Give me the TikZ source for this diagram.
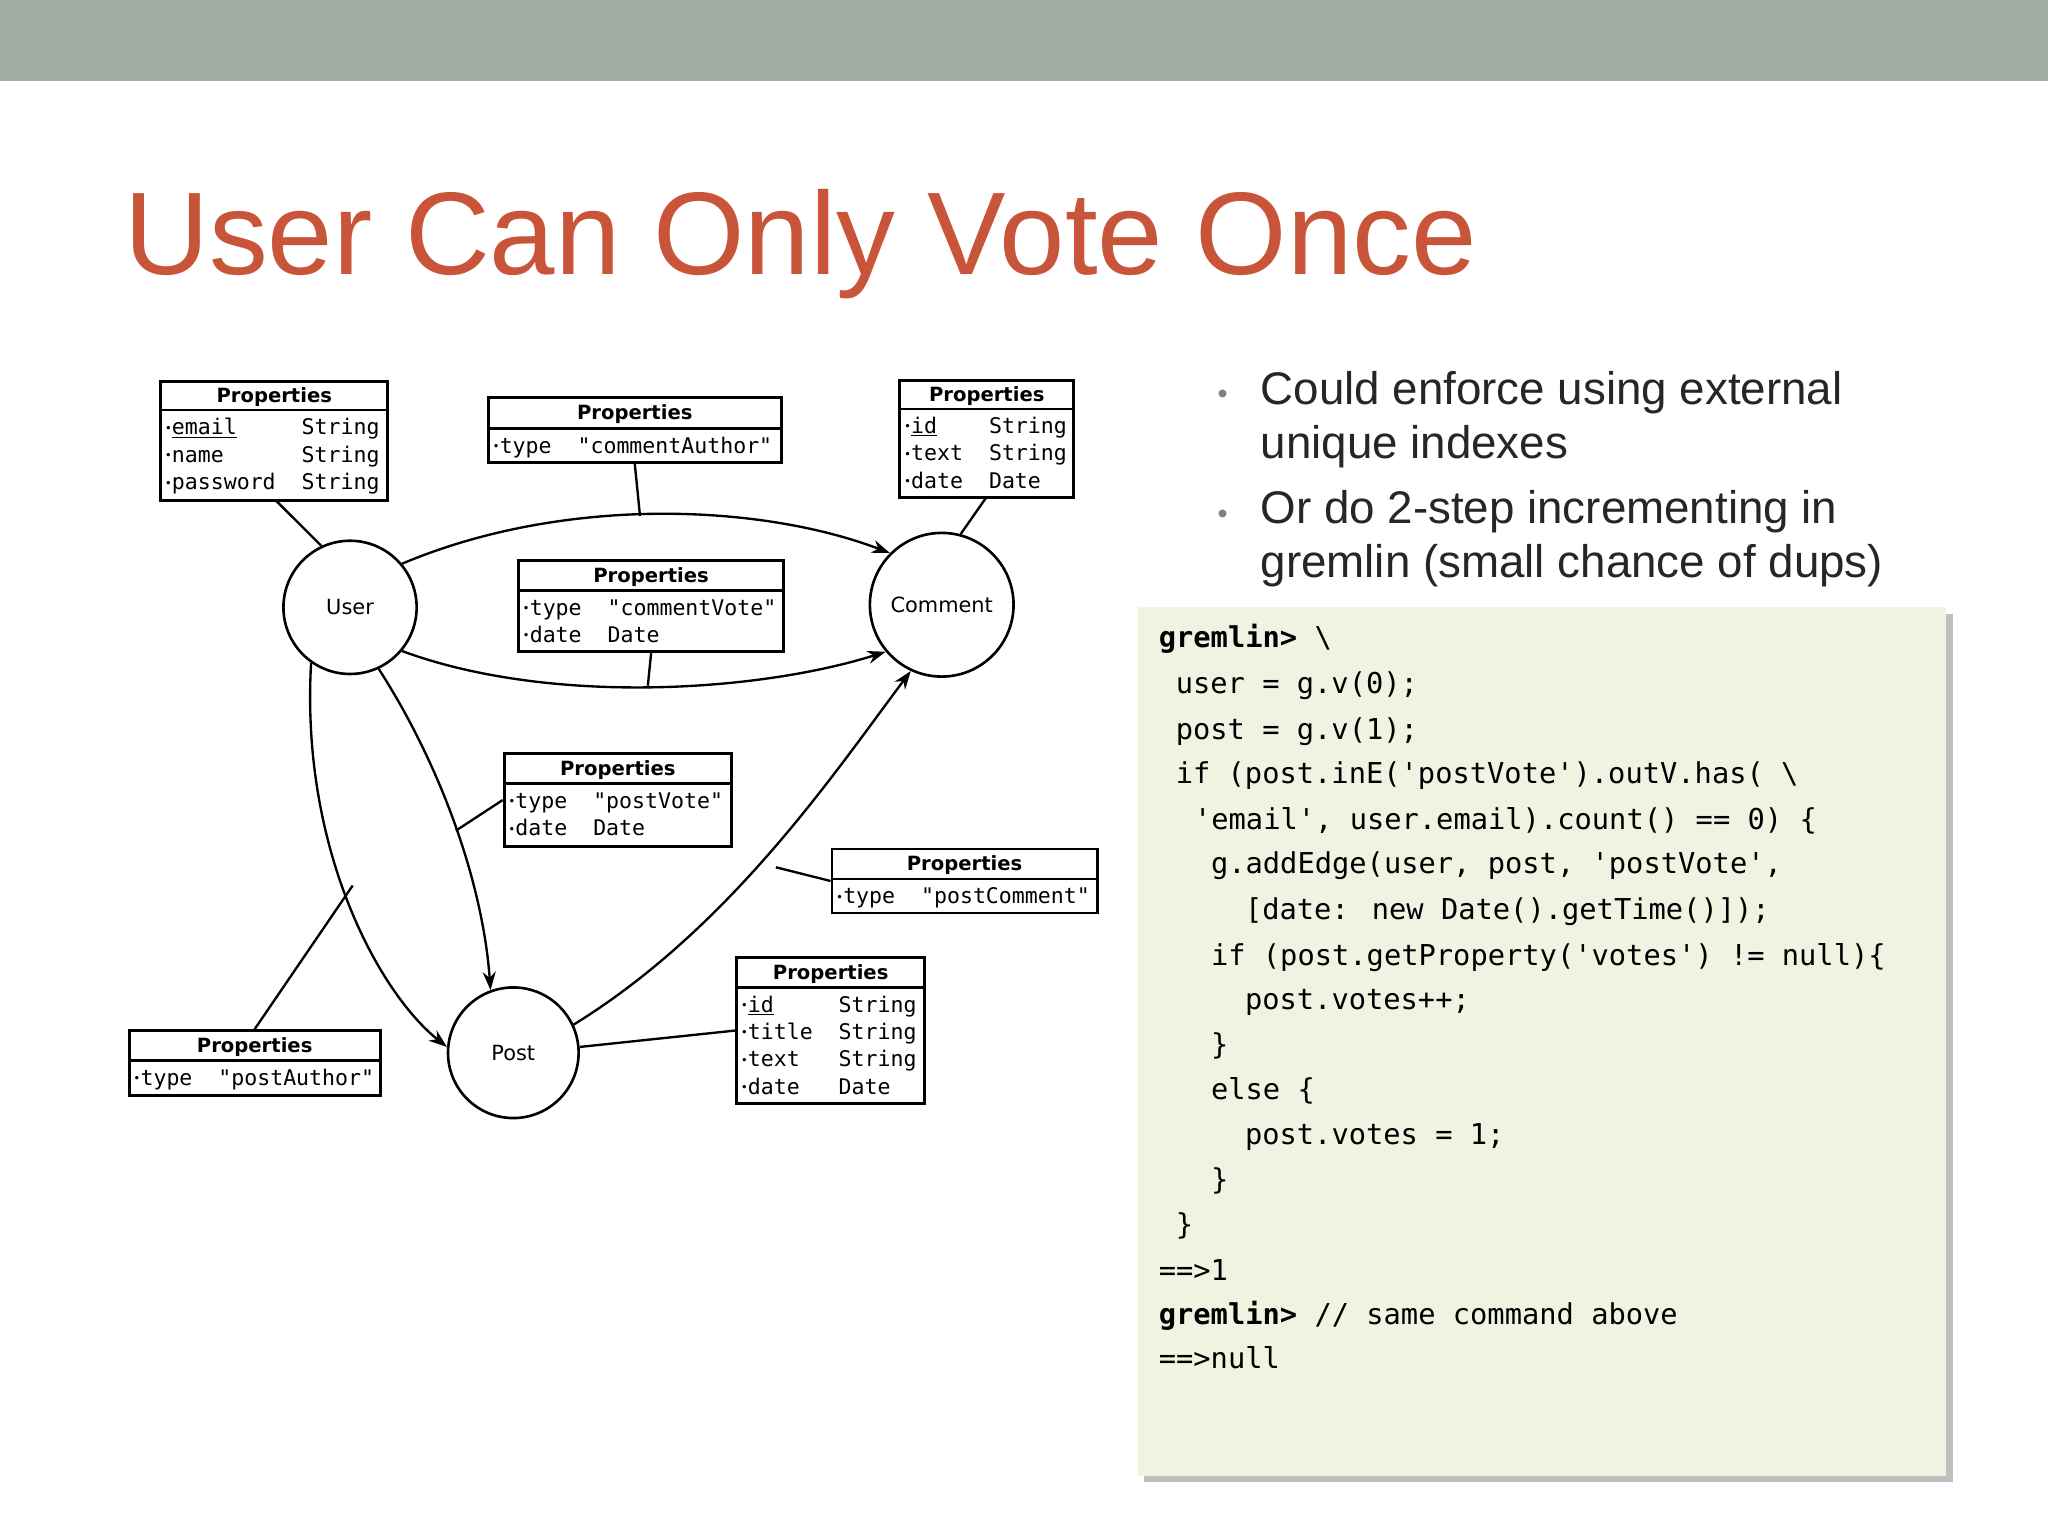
\documentclass[tikz,border=0pt]{standalone}
\usepackage{fontspec}
\setmainfont{Liberation Sans}
\newfontfamily\dmono{DejaVu Sans Mono}
\newfontfamily\dsans{DejaVu Sans}
\usetikzlibrary{arrows.meta}
\definecolor{bar}{HTML}{A3ADA6}
\definecolor{ttl}{HTML}{C8553A}
\definecolor{codebg}{HTML}{F2F2E2}
\tikzset{
 box/.style={draw,line width=2.2pt,inner sep=0pt},
 vert/.style={circle,draw,line width=2pt,inner sep=0pt,font=\dsans\fontsize{16}{18}\selectfont},
 hdr/.style={font=\dsans\bfseries\fontsize{15}{17}\selectfont},
 rows/.style={anchor=north west,inner sep=0pt,font=\dmono\fontsize{16.5}{21}\selectfont},
 edge/.style={line width=1.8pt},
 arr/.style={edge,-{Stealth[length=14pt,width=10pt]}},
 code/.style={anchor=base west,inner sep=0pt,font=\dmono\fontsize{22}{26}\selectfont},
 bul/.style={anchor=base west,inner sep=0pt,font=\fontsize{35}{40}\selectfont,text=black!85}
}
\newcommand{\bt}{{\fontsize{9}{9}\selectfont\raisebox{2pt}{\textbullet}}}
\begin{document}
\begin{tikzpicture}[x=1pt,y=-1pt]
\useasboundingbox (0,0) rectangle (1568,1176);
\fill[bar] (0,0) rectangle (1568,62);
\node[anchor=base west,inner sep=0pt,text=ttl,font=\fontsize{90}{100}\selectfont] (title) at (95,210) {User Can Only Vote Once};

% bullets
\node[bul,text=gray] (b1) at (932,309) {\fontsize{22}{22}\selectfont\textbullet};
\node[bul] (t1) at (965,310) {Could enforce using external};
\node[bul] (t2) at (965,351) {unique indexes};
\node[bul,text=gray] (b2) at (932,401) {\fontsize{22}{22}\selectfont\textbullet};
\node[bul] (t3) at (965,401) {Or do 2-step incrementing in};
\node[bul] (t4) at (965,442) {gremlin (small chance of dups)};

% code box
\fill[black!25] (876,470) rectangle (1495,1135);
\fill[codebg] (871,465) rectangle (1490,1130);
\node[code] (c1) at (887,496) {\textbf{gremlin>} \textbackslash};
\node[code] (c2) at (900,531) {user = g.v(0);};
\node[code] (c3) at (900,566) {post = g.v(1);};
\node[code] (c4) at (900,600) {if (post.inE('postVote').outV.has( \textbackslash};
\node[code] (c5) at (914,635) {'email', user.email).count() == 0) \{};
\node[code] (c6) at (927,669) {g.addEdge(user, post, 'postVote',};
\node[code] (c7) at (953,704) {[date: new Date().getTime()]);};
\node[code] (c8) at (927,739) {if (post.getProperty('votes') != null)\{};
\node[code] (c9) at (953,773) {post.votes++;};
\node[code] (c10) at (927,807) {\}};
\node[code] (c11) at (927,842) {else \{};
\node[code] (c12) at (953,876) {post.votes = 1;};
\node[code] (c13) at (927,911) {\}};
\node[code] (c14) at (900,945) {\}};
\node[code] (c15) at (887,980) {==>1};
\node[code] (c16) at (887,1014) {\textbf{gremlin>} // same command above};
\node[code] (c17) at (887,1048) {==>null};

% vertices
\node[vert,minimum size=102pt] (user) at (268,465) {User};
\node[vert,minimum size=110pt] (comment) at (721,463) {Comment};
\node[vert,minimum size=100pt] (post) at (393,806) {Post};

% property boxes
\newcommand{\pbox}[7]{%
 \node[box,minimum width=#4-#2,minimum height=#5-#3] (#1) at ({(#2+#4)/2},{(#3+#5)/2}) {};
 \draw[line width=2pt] (#2,#6) -- (#4,#6);
 \node[hdr] (#1h) at ({(#2+#4)/2},{(#3+#6)/2+1}) {Properties};
 \node[rows] (#1r) at (#2+3,#6+4) {#7};}
\pbox{pa}{123}{292}{297}{383}{314}{\begin{tabular}{@{}l@{\ \ }l@{}}\bt\underline{email} & String\\\bt name & String\\\bt password & String\end{tabular}}
\pbox{pb}{374}{304}{598}{354}{328}{\begin{tabular}{@{}l@{}}\bt type \ "commentAuthor"\end{tabular}}
\pbox{pc}{689}{291}{822}{381}{313}{\begin{tabular}{@{}l@{\ \ }l@{}}\bt\underline{id} & String\\\bt text & String\\\bt date & Date\end{tabular}}
\pbox{pd}{397}{429}{600}{499}{452}{\begin{tabular}{@{}l@{\ \ }l@{}}\bt type & "commentVote"\\\bt date & Date\end{tabular}}
\pbox{pe}{386}{577}{560}{648}{600}{\begin{tabular}{@{}l@{\ \ }l@{}}\bt type & "postVote"\\\bt date & Date\end{tabular}}
\pbox{pf}{637}{650}{840}{699}{673}{\begin{tabular}{@{}l@{}}\bt type \ "postComment"\end{tabular}}
\pbox{pg}{564}{733}{708}{845}{756}{\begin{tabular}{@{}l@{\ \ }l@{}}\bt\underline{id} & String\\\bt title & String\\\bt text & String\\\bt date & Date\end{tabular}}
\pbox{ph}{99}{789}{291}{839}{812}{\begin{tabular}{@{}l@{}}\bt type \ "postAuthor"\end{tabular}}

% edges
\draw[arr] (user.40) .. controls (430,380) and (580,385) .. (comment.135);
\draw[arr] (user.-40) .. controls (420,540) and (580,530) .. (comment.220);
\draw[arr] (user.-65) .. controls (340,590) and (370,680) .. (post.110);
\draw[arr] (user.-125) .. controls (230,650) and (290,760) .. (post.175);
\draw[arr] (post.25) .. controls (560,710) and (640,590) .. (comment.-115);
\coordinate (m1) at (490,395);
\coordinate (m2) at (496,525);
\coordinate (m3) at (349,636);
\coordinate (m4) at (270,678);
\coordinate (m5) at (594,664);
\draw[edge] (pb.south) -- (m1);
\draw[edge] (pd.south) -- (m2);
\draw[edge] (m3) -- (pe.west);
\draw[edge] (ph.north) -- (m4);
\draw[edge] (m5) -- (pf.west);
\draw[edge] (post.5) -- (pg.west);
\draw[edge] (211,383) -- (user.115);
\draw[edge] (755,381) -- (comment.75);
\end{tikzpicture}
\end{document}
